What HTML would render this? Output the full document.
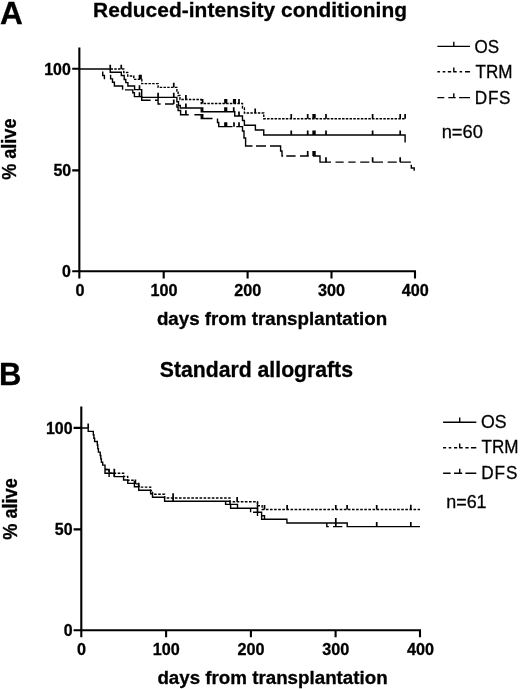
<!DOCTYPE html>
<html><head><meta charset="utf-8"><title>Figure</title>
<style>
html,body{margin:0;padding:0;background:#fff;}
svg{display:block;font-family:"Liberation Sans",Arial,sans-serif;font-kerning:none;}
.b{font-weight:bold;stroke:#000;stroke-width:0.3;}
.ax{stroke:#000;stroke-width:2.1;fill:none;stroke-linecap:butt;}
.c{stroke:#000;stroke-width:1.4;fill:none;}
.d{stroke:#000;stroke-width:1.4;fill:none;stroke-dasharray:2.5 1.25;}
.t{stroke:#000;stroke-width:1.7;fill:none;}
.d2{stroke:#000;stroke-width:1.4;fill:none;stroke-dasharray:2.6 1.5;}
</style></head>
<body>
<svg width="520" height="689" viewBox="0 0 520 689">
<rect width="520" height="689" fill="#fff"/>
<!-- Panel A -->
<g id="pA">
<text class="b" transform="translate(0 24.3) scale(1.02 1)" font-size="31">A</text>
<text class="b" x="250.1" y="17" font-size="20.9" letter-spacing="0.06" text-anchor="middle">Reduced-intensity conditioning</text>
<path class="ax" d="M79.35 47.5V278.4M72.2 68.8H79.35M72.2 170.4H79.35M72.2 271.3H416M163.7 271.3V278.4M247.6 271.3V278.4M331.5 271.3V278.4M415 271.3V278.4"/>
<g class="b" font-size="15.95" text-anchor="end">
<text x="70.8" y="74.5">100</text><text x="71.2" y="176">50</text><text x="70.8" y="277.3">0</text>
</g>
<g class="b" font-size="16.2" text-anchor="middle">
<text x="80" y="296.2">0</text><text x="164" y="296.2">100</text><text x="247.8" y="296.2">200</text><text x="331.6" y="296.2">300</text><text x="415.3" y="296.2">400</text>
</g>
<text class="b" font-size="18.75" text-anchor="middle" x="272" y="325">days from transplantation</text>
<text class="b" font-size="18.6" text-anchor="middle" transform="translate(16 149.2) rotate(-90) scale(0.972 1.06)">% alive</text>
<g transform="translate(0 0.45)">
<path class="d" d="M110.5 68.6H123.75V72H127.75V75.6H133.75V78.9H141.8V83.2H158.1V86.9H176.9V90.6H178.1V95H180V99H201.25V103H242.5V107.5H244.4V112.5H263.75V118.3H405"/>
<path class="c" d="M80 68.6H110.25V71.8H121.3V75H124.2V79H125.8V82.2H127.9V85.6H134.6V89.2H141.7V96.9H176.9V101.25H178.5V105H180.3V107.5H201.25V111.25H234.75V115.5H242.5V120H244.4V124.8H255.4V129.5H263.75V134.6H405.1V142"/>
<path class="c" d="M102.75 71V75H104.4V78.75M110.6 74.4V78.4H112.5V81.8H114.4V85.6H122.6V89.4M125 89.4H132.8V92.3H134.4V96.2H141.7V99.8H150.6M155 99.8H158.1V103.5H160.6M158.1 96.5V99.8M165 103.5H173.75M176.9 103.5V106.5H178.1V110H180.6V114.3H188.75M194.4 114.3H201.25V118H212.5M217.5 118V122H218.75V126.2H232.5M236.25 126.2H242.5V130.6H244V137.5H245.6V145.6H252.5M256 145.6H266M270 145.6H280.6V150.6H282V155.6H283.1M286.25 155.6H295.6M300 155.6H308.75M312.9 155.6H320V161.7H331M335.5 161.7H343.7M348.3 161.7H355.6M360.2 161.7H369.3M372.6 161.7H383M387.6 161.7H396.8M400.2 161.7H410.9M411.3 164.3V167.6H414.2V170.3"/>
<path class="t" d="M110.25 64.4V68.6M121.25 64.4V68.6M139.5 74.4V78.9M141 74.4V78.9M173.75 82.4V86.9M185.9 94.5V99M202.6 98.5V103M225 98.5V103M226.5 98.5V103M233.75 98.5V103M235.25 98.5V103M239 98.5V103M255.2 108.0V112.5M291.25 113.6V118.3M307.7 113.6V118.3M313.2 113.6V118.3M314.9 113.6V118.3M326 113.6V118.3M372.6 113.6V118.3M400.2 113.6V118.3M405.1 113.6V118.3M139.5 84.7V89.2M158.1 92.4V96.9M173.75 92.4V96.9M185.9 103.0V107.5M202.6 106.75V111.25M225 106.75V111.25M226.5 106.75V111.25M233.75 106.75V111.25M239 111.0V115.5M291.25 130.0V134.6M307.7 130.0V134.6M313.2 130.0V134.6M314.9 130.0V134.6M326 130.0V134.6M372.6 130.0V134.6M400.2 130.0V134.6M139.5 91.7V96.2M173.75 99.0V103.5M185.9 109.8V114.3M202.6 113.5V118M225 121.7V126.2M226.5 121.7V126.2M234 121.7V126.2M239 121.7V126.2M307.7 150.6V155.6M313.2 150.6V155.6M314.9 150.6V155.6M326 156.9V161.7M372.6 156.9V161.7M400.2 156.9V161.7"/>
</g>
<!-- legend -->
<path class="c" d="M437.4 46.4H470M453.8 41.8V46.4"/>
<path class="c" d="M437.4 71.7H439.9M442.7 71.7H445.3M447.8 71.7H451.2M453.2 71.7H456.7M459.6 71.7H462.1M465 71.7H470M453.8 67.5V71.7"/>
<path class="c" d="M437.4 97.6H444.3M448.3 97.6H455.7M459.1 97.6H470M453.8 93.2V97.6"/>
<g font-size="19.1" stroke="#000" stroke-width="0.3"><text transform="translate(474.4 52.6) scale(0.893 1)">OS</text><text transform="translate(475.5 77.85) scale(0.895 1)">TRM</text><text transform="translate(474.8 104.1) scale(0.898 1)" letter-spacing="0.8">DFS</text><text transform="translate(441.7 137.7) scale(0.957 1)">n=60</text></g>
</g>
<!-- Panel B -->
<g id="pB">
<text class="b" x="-0.9" y="384.6" font-size="31">B</text>
<text class="b" x="256.4" y="377.1" font-size="21.2" text-anchor="middle">Standard allografts</text>
<path class="ax" d="M81.3 406.5V637.3M73.6 427.9H81.3M73.6 529.4H81.3M73.6 630.3H421M166.1 630.3V637.3M250.9 630.3V637.3M335.6 630.3V637.3M420 630.3V637.3"/>
<g class="b" font-size="15.95" text-anchor="end">
<text x="72.5" y="433.9">100</text><text x="72.6" y="535.1">50</text><text x="72.5" y="636.4">0</text>
</g>
<g class="b" font-size="16.2" text-anchor="middle">
<text x="81.6" y="655">0</text><text x="166.3" y="655">100</text><text x="251" y="655">200</text><text x="335.7" y="655">300</text><text x="420.5" y="655">400</text>
</g>
<text class="b" font-size="18.75" text-anchor="middle" x="272.5" y="684">days from transplantation</text>
<text class="b" font-size="18.6" text-anchor="middle" transform="translate(16.7 509) rotate(-90) scale(0.975 1.06)">% alive</text>
<path class="d2" d="M105 469.5H109.1V473.2H123.6V476.4H127.7V480.3H134.4V483.9H138.75V487.1H150.6V490.6H152.5V494.2H164.6V498H230V501.8H257.5V505.7H262.1V509.5H420"/>
<path class="c" d="M81.3 428H88.2V431.4H93.3V434.8H93.9V438.2H94.6V441.5H97.3V445H97.8V448.6H98.4V452.1H100.2V455.5H100.8V458.9H101.4V462.3H102.7V465.1H105V473.2H114.3V476.6H123.6V480H127.8V483.4H134.4V486.8H138.75V490.3H150.6V493.8H152.5V497.2H164.6V501.3H230V504.4H237.5V508.2H257.5V512.3H261.6V519.3H286.9V523H347.2V526.6H420"/>
<path class="c" d="M105 469.5H109.1V476.9M225.6 501.3V504.4H230.6V508.2H237.5M250.6 508.2V512.3M253 512.3H257.5M257.5 501.8V515.9M261.6 515.7H264.5V519.3M326.8 523V526.6H328.8M333 526.6H342.3"/>
<path class="t" d="M88.2 423.5V428M114.3 468.8V476.6M135.4 479.5V483.9M138.75 482.8V487.1M173.1 493.3V501.3M237.1 497.1V501.8M264.5 505V509.5M287.1 505V509.5M335.8 505V509.5M347.1 505V509.5M376.7 505V509.5M410.8 504.8V509.5M335.8 518V526.6M376.7 522V526.6M410.8 522V526.6"/>
<path class="c" d="M443.1 422.3H476.3M459.7 417.6V422.3"/>
<path class="c" d="M443.1 447.7H446.1M448.7 447.7H451.3M454 447.7H457.2M459.2 447.7H462.7M465.4 447.7H468.6M471 447.7H476.3M459.7 443.6V447.7"/>
<path class="c" d="M443.1 473.3H450.6M454 473.3H462.2M465.4 473.3H476.3M459.7 468.8V473.3"/>
<g font-size="19.1" stroke="#000" stroke-width="0.3"><text transform="translate(481 427.9) scale(0.928 1)">OS</text><text transform="translate(481.5 453) scale(0.895 1)">TRM</text><text transform="translate(481.3 478.7) scale(0.898 1)" letter-spacing="1.05">DFS</text><text transform="translate(446.2 508.2) scale(0.94 1)">n=61</text></g>
</g>
</svg>
</body></html>
